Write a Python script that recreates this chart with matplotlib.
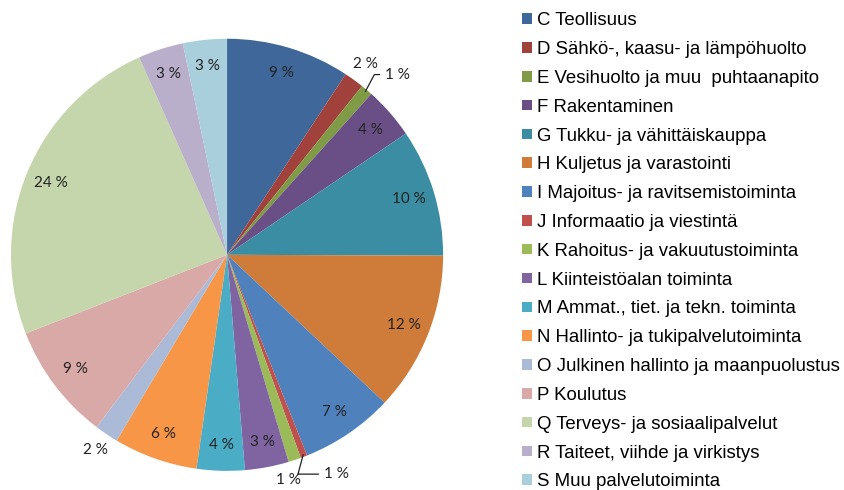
import numpy as np
import matplotlib.pyplot as plt

# toimialat ja osuudet (%)
categories = ["C Teollisuus", "D Sähkö-, kaasu- ja lämpöhuolto",
              "E Vesihuolto ja muu  puhtaanapito", "F Rakentaminen",
              "G Tukku- ja vähittäiskauppa", "H Kuljetus ja varastointi",
              "I Majoitus- ja ravitsemistoiminta", "J Informaatio ja viestintä",
              "K Rahoitus- ja vakuutustoiminta", "L Kiinteistöalan toiminta",
              "M Ammat., tiet. ja tekn. toiminta", "N Hallinto- ja tukipalvelutoiminta",
              "O Julkinen hallinto ja maanpuolustus", "P Koulutus",
              "Q Terveys- ja sosiaalipalvelut", "R Taiteet, viihde ja virkistys",
              "S Muu palvelutoiminta"]
values = [9.3, 1.5, 0.9, 3.9, 9.6, 12.0, 7.0, 0.5, 0.95, 3.3, 3.6, 6.3, 1.8, 8.8, 24.4, 3.4, 3.3]
pct_labels = ["9 %", "2 %", "1 %", "4 %", "10 %", "12 %", "7 %", "1 %", "1 %",
              "3 %", "4 %", "6 %", "2 %", "9 %", "24 %", "3 %", "3 %"]
colors = ["#3F6799", "#A0413C", "#7F9B45", "#6A4F87", "#3A8DA2", "#CF7B39",
          "#4F81BD", "#C0504D", "#9BBB59", "#8064A2", "#4BACC6", "#F79646",
          "#AABAD7", "#D9A9A8", "#C6D6AC", "#B9AFCB", "#A9CFDC"]

fig = plt.figure(figsize=(8.44, 4.9), dpi=100)
ax = fig.add_axes([0.013, 0.039, 0.512, 0.882])
wedges, _ = ax.pie(values, colors=colors, startangle=90, counterclock=False,
                   radius=1.0, wedgeprops=dict(linewidth=0))
ax.set_xlim(-1, 1)
ax.set_ylim(-1, 1)
ax.set_aspect("equal")
ax.axis("off")

# etäisyys keskipisteestä ja kulmasiirto; ulkopuoliset pienet sektorit
outside = {1: (1.09, 0), 12: (1.09, 0), 8: (1.08, -3)}
leader = {2: (1.11, -1, 62), 7: (1.11, 3, 75)}   # r, kulmasiirto, viivan kulma
lab_font = dict(family=["Lato", "DejaVu Sans"], fontsize=11, color="#222222")
for i, w in enumerate(wedges):
    mid = np.deg2rad((w.theta1 + w.theta2) / 2)
    if i in leader:
        r, da, ang = leader[i]
        a = mid + np.deg2rad(da)
        ax.annotate(pct_labels[i], xy=(np.cos(mid) * 0.99, np.sin(mid) * 0.99),
                    xytext=(np.cos(a) * r, np.sin(a) * r), ha="left", va="center",
                    arrowprops=dict(arrowstyle="-", color="#222222", lw=0.9,
                                    shrinkA=2, shrinkB=0,
                                    connectionstyle=f"angle,angleA=0,angleB={ang},rad=0"),
                    **lab_font)
    else:
        r, da = outside.get(i, (0.88, 0))
        a = mid + np.deg2rad(da)
        ax.text(np.cos(a) * r, np.sin(a) * r, pct_labels[i], ha="center",
                va="center", **lab_font)

leg = fig.legend(wedges, categories, loc="upper left", bbox_to_anchor=(0.619, 0.975),
                 frameon=False, prop=dict(family="Liberation Sans", size=13.4),
                 handlelength=0.5, handleheight=0.5, handletextpad=0.3,
                 labelspacing=0.635, borderpad=0, borderaxespad=0)

plt.savefig("out.png", dpi=100)
